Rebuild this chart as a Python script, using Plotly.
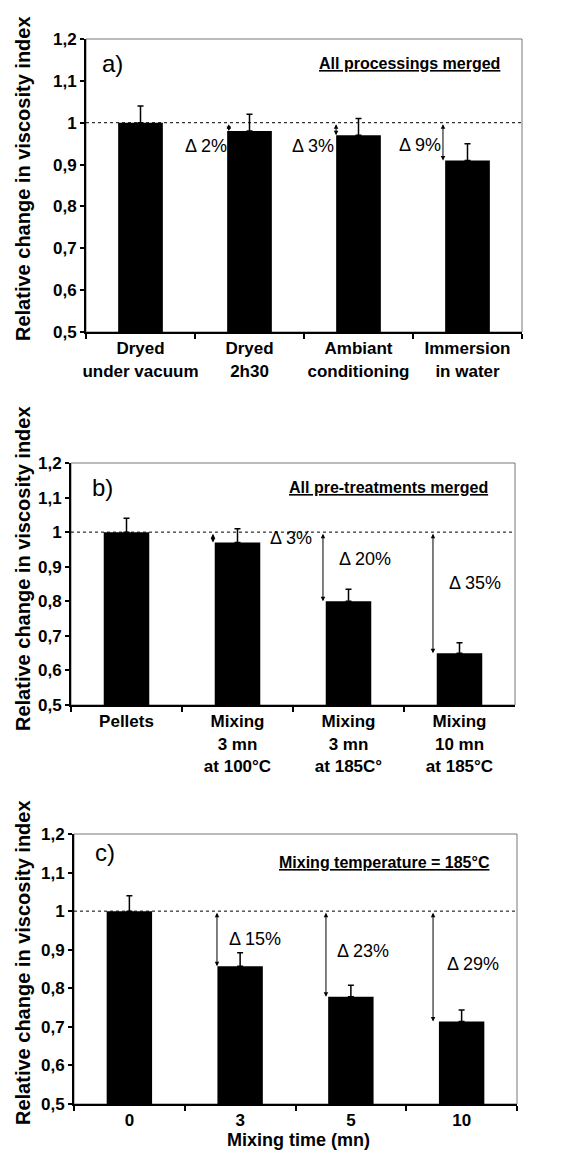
import plotly.graph_objects as go

# ---------------- data ----------------
cats_a = ["Dryed<br>under vacuum", "Dryed<br>2h30", "Ambiant<br>conditioning", "Immersion<br>in water"]
vals_a = [1.00, 0.98, 0.97, 0.91]
err_a = [0.04, 0.04, 0.04, 0.04]
delta_a = ["Δ 2%", "Δ 3%", "Δ 9%"]

cats_b = ["Pellets", "Mixing<br>3 mn<br>at 100°C", "Mixing<br>3 mn<br>at 185C°", "Mixing<br>10 mn<br>at 185°C"]
vals_b = [1.00, 0.97, 0.80, 0.65]
err_b = [0.04, 0.04, 0.035, 0.03]
delta_b = ["Δ 3%", "Δ 20%", "Δ 35%"]

cats_c = ["0", "3", "5", "10"]
vals_c = [1.00, 0.857, 0.778, 0.714]
err_c = [0.04, 0.035, 0.03, 0.03]
delta_c = ["Δ 15%", "Δ 23%", "Δ 29%"]

panel_letters = ["a)", "b)", "c)"]
panel_titles = ["All processings merged", "All pre-treatments merged", "Mixing temperature = 185°C"]
y_title = "Relative change in viscosity index"
x_title_c = "Mixing time (mn)"
ref_level = 1.0

# ---------------- layout geometry ----------------
W, H = 572, 1152
FONT = "Liberation Sans, Arial, sans-serif"

def px_x(p):
    return p / W

def px_y(p):
    return 1 - p / H

panels = [
    dict(cats=cats_a, vals=vals_a, err=err_a, delta=delta_a,
         x0=86, x1=522, ytop=39, ybot=332),
    dict(cats=cats_b, vals=vals_b, err=err_b, delta=delta_b,
         x0=71, x1=515, ytop=463, ybot=705),
    dict(cats=cats_c, vals=vals_c, err=err_c, delta=delta_c,
         x0=74, x1=517, ytop=834, ybot=1104),
]

fig = go.Figure()
annotations = []
shapes = []

arrow_off = [[-0.19, -0.206, -0.225], [-0.221, -0.23, -0.239], [-0.209, -0.225, -0.258]]
text_pos = [
    [("right", -0.19, 0.945), ("right", -0.206, 0.945), ("right", -0.225, 0.947)],
    [("left", 0.275, 0.984), ("left", -0.104, 0.923), ("left", -0.113, 0.853)],
    [("left", -0.119, 0.928), ("left", -0.143, 0.897), ("left", -0.15, 0.863)],
]
letter_pos = [(0.032, 0.918), (0.043, 0.90), (0.043, 0.93)]
title_pos = [(0.954, 0.918), (0.944, 0.90), (0.944, 0.896)]
y_title_center = [179, 569, 963]

for k, p in enumerate(panels):
    sfx = "" if k == 0 else str(k + 1)
    xa, ya = "x" + sfx, "y" + sfx
    fig.add_trace(go.Bar(
        x=p["cats"], y=p["vals"], xaxis=xa, yaxis=ya,
        marker=dict(color="black", line=dict(width=0)),
        width=0.41,
        error_y=dict(type="data", symmetric=False, array=p["err"],
                     arrayminus=[0] * len(p["err"]), color="black",
                     thickness=1.5, width=3),
        showlegend=False, hoverinfo="skip",
    ))
    xdom = [px_x(p["x0"]), px_x(p["x1"])]
    ydom = [px_y(p["ybot"]), px_y(p["ytop"])]
    fig.update_layout(**{
        "xaxis" + sfx: dict(
            domain=xdom, anchor=ya, type="category", range=[-0.5, 3.5],
            automargin=False, tickangle=0,
            showline=True, linecolor="black", linewidth=2,
            ticks="outside", tickson="boundaries", ticklen=5,
            tickcolor="black", tickwidth=1.5,
            tickfont=dict(family=FONT, size=17, color="black", weight="bold"),
            showgrid=False, zeroline=False, fixedrange=True,
        ),
        "yaxis" + sfx: dict(
            domain=ydom, anchor=xa, range=[0.5, 1.2], dtick=0.1, tick0=0.5,
            automargin=False,
            showline=True, linecolor="black", linewidth=2,
            ticks="outside", ticklen=4, tickcolor="black", tickwidth=1.5,
            tickfont=dict(family=FONT, size=17, color="black", weight="bold"),
            showgrid=False, zeroline=False, fixedrange=True,
        ),
    })
    shapes.append(dict(type="rect", xref=xa + " domain", yref=ya + " domain",
                       x0=0, x1=1, y0=0, y1=1, line=dict(color="#777", width=1),
                       layer="below"))
    shapes.append(dict(type="line", xref=xa + " domain", yref=ya,
                       x0=0, x1=1, y0=ref_level, y1=ref_level,
                       line=dict(color="black", width=1, dash="dot"), layer="above"))
    annotations.append(dict(xref=xa + " domain", yref=ya + " domain",
                            x=letter_pos[k][0], y=letter_pos[k][1],
                            xanchor="left", yanchor="middle",
                            text=panel_letters[k], showarrow=False,
                            font=dict(family=FONT, size=24, color="black")))
    annotations.append(dict(xref=xa + " domain", yref=ya + " domain",
                            x=title_pos[k][0], y=title_pos[k][1],
                            xanchor="right", yanchor="middle",
                            text="<b><u>" + panel_titles[k] + "</u></b>", showarrow=False,
                            font=dict(family=FONT, size=16, color="black")))
    for i in range(1, 4):
        ax_pos = i + arrow_off[k][i - 1]
        annotations.append(dict(xref=xa, yref=ya, axref=xa, ayref=ya,
                                x=ax_pos, y=p["vals"][i], ax=ax_pos, ay=ref_level,
                                text="", showarrow=True, arrowhead=2, arrowside="end+start",
                                arrowsize=0.9, arrowwidth=1, arrowcolor="black"))
        anc, off, ty = text_pos[k][i - 1]
        annotations.append(dict(xref=xa, yref=ya, x=i + off, y=ty,
                                xanchor=anc, yanchor="middle", showarrow=False,
                                text=p["delta"][i - 1],
                                font=dict(family=FONT, size=18, color="black")))
    annotations.append(dict(xref="paper", yref="paper", x=px_x(23), y=px_y(y_title_center[k]),
                            xanchor="center", yanchor="middle", textangle=-90,
                            text="<b>" + y_title + "</b>", showarrow=False,
                            font=dict(family=FONT, size=20, color="black")))

annotations.append(dict(xref="paper", yref="paper", x=px_x(298), y=px_y(1140),
                        xanchor="center", yanchor="middle", showarrow=False,
                        text="<b>" + x_title_c + "</b>",
                        font=dict(family=FONT, size=18, color="black")))

fig.update_layout(
    template="none",
    width=W, height=H, margin=dict(l=0, r=0, t=0, b=0, pad=0),
    paper_bgcolor="white", plot_bgcolor="white",
    separators=",.", bargap=0.59,
    annotations=annotations, shapes=shapes,
    font=dict(family=FONT, color="black"),
)

fig.write_html("out.html")
